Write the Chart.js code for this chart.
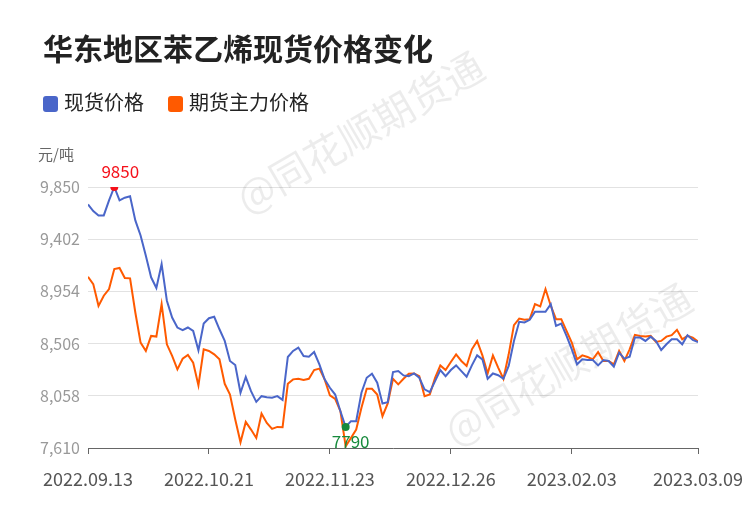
<!DOCTYPE html>
<html>
<head>
<meta charset="utf-8">
<script src="https://cdn.jsdelivr.net/npm/chart.js@4.4.1/dist/chart.umd.min.js"></script>
<style>
  html,body{margin:0;padding:0;background:#fff;}
  #wrap{position:relative;width:750px;height:510px;overflow:hidden;font-family:"Noto Sans CJK SC","Noto Sans",sans-serif;}
  #c{position:absolute;left:0;top:0;}
  .title{position:absolute;left:43px;top:27px;font-size:30px;font-weight:bold;color:#222;line-height:40px;white-space:nowrap;}
  .legend{position:absolute;top:90px;font-size:20px;color:#222;line-height:24px;white-space:nowrap;}
  .legend span.sw{display:inline-block;width:15px;height:16px;border-radius:3px;vertical-align:-2px;margin-right:6px;}
  .unit{position:absolute;left:38px;top:144px;font-size:15px;color:#666;line-height:20px;}
</style>
</head>
<body>
<div id="wrap">
  <canvas id="c" width="750" height="510"></canvas>
  <div class="title">华东地区苯乙烯现货价格变化</div>
  <div class="legend" style="left:43px;"><span class="sw" style="background:#4a66c9"></span>现货价格</div>
  <div class="legend" style="left:168px;"><span class="sw" style="background:#ff5a00"></span>期货主力价格</div>
  <div class="unit">元/吨</div>
</div>
<script>
const dates = [
  "2022.09.13","2022.09.14","2022.09.15","2022.09.16","2022.09.19","2022.09.20","2022.09.21","2022.09.22","2022.09.23","2022.09.26","2022.09.27","2022.09.28","2022.09.29","2022.09.30",
  "2022.10.10","2022.10.11","2022.10.12","2022.10.13","2022.10.14","2022.10.17","2022.10.18","2022.10.19","2022.10.20","2022.10.21","2022.10.24","2022.10.25","2022.10.26","2022.10.27","2022.10.28","2022.10.31",
  "2022.11.01","2022.11.02","2022.11.03","2022.11.04","2022.11.07","2022.11.08","2022.11.09","2022.11.10","2022.11.11","2022.11.14","2022.11.15","2022.11.16","2022.11.17","2022.11.18","2022.11.21","2022.11.22","2022.11.23","2022.11.24","2022.11.25","2022.11.28","2022.11.29","2022.11.30",
  "2022.12.01","2022.12.02","2022.12.05","2022.12.06","2022.12.07","2022.12.08","2022.12.09","2022.12.12","2022.12.13","2022.12.14","2022.12.15","2022.12.16","2022.12.19","2022.12.20","2022.12.21","2022.12.22","2022.12.23","2022.12.26","2022.12.27","2022.12.28","2022.12.29","2022.12.30",
  "2023.01.03","2023.01.04","2023.01.05","2023.01.06","2023.01.09","2023.01.10","2023.01.11","2023.01.12","2023.01.13","2023.01.16","2023.01.17","2023.01.18","2023.01.19","2023.01.20","2023.01.30","2023.01.31",
  "2023.02.01","2023.02.02","2023.02.03","2023.02.06","2023.02.07","2023.02.08","2023.02.09","2023.02.10","2023.02.13","2023.02.14","2023.02.15","2023.02.16","2023.02.17","2023.02.20","2023.02.21","2023.02.22","2023.02.23","2023.02.24","2023.02.27","2023.02.28",
  "2023.03.01","2023.03.02","2023.03.03","2023.03.06","2023.03.07","2023.03.08","2023.03.09"
];

const spotPrice = [
  9700,9643,9606,9606,9735,9850,9735,9758,9770,9563,
  9434,9261,9075,8983,9189,8874,8730,8644,8621,8644,
  8615,8448,8678,8724,8736,8629,8529,8357,8322,8084,
  8219,8098,8006,8055,8046,8041,8055,8023,8391,8443,
  8472,8400,8394,8434,8328,8199,8127,8069,7926,7790,
  7840,7840,8084,8213,8248,8170,7992,8003,8262,8270,
  8233,8227,8250,8213,8113,8090,8184,8279,8227,8279,
  8319,8270,8222,8319,8405,8371,8204,8250,8235,8204,
  8314,8529,8693,8687,8710,8779,8779,8779,8845,8658,
  8678,8572,8457,8328,8371,8365,8365,8319,8365,8357,
  8308,8428,8377,8394,8558,8558,8529,8566,8529,8451,
  8500,8543,8543,8500,8578,8538,8520
];

const futuresPrice = [
  9080,9017,8830,8917,8974,9146,9155,9069,9066,8773,
  8515,8443,8572,8566,8845,8500,8400,8285,8376,8408,
  8342,8147,8457,8443,8414,8371,8161,8069,7854,7659,
  7834,7768,7696,7906,7825,7774,7791,7788,8161,8199,
  8204,8193,8204,8279,8291,8199,8061,8032,7926,7624,
  7696,7768,7955,8118,8118,8069,7883,7992,8204,8156,
  8204,8248,8250,8227,8055,8069,8213,8319,8279,8348,
  8414,8357,8314,8457,8529,8405,8250,8405,8300,8204,
  8414,8664,8721,8710,8716,8845,8825,8974,8831,8716,
  8716,8615,8515,8371,8405,8391,8371,8434,8357,8357,
  8328,8443,8357,8457,8581,8572,8566,8572,8520,8529,
  8566,8578,8624,8543,8572,8558,8523
];

const xTickIndex = [0, 23, 46, 69, 92, 116];
const yTicks = [7610, 8058, 8506, 8954, 9402, 9850];
const seriesNames = ["现货价格", "期货主力价格"];

const maxIdx = spotPrice.indexOf(Math.max(...spotPrice));
const minIdx = spotPrice.indexOf(Math.min(...spotPrice));

const FONT = '"Noto Sans CJK SC","Noto Sans",sans-serif';

const watermark = {
  id: 'watermark',
  beforeDatasetsDraw(chart) {
    const ctx = chart.ctx;
    const marks = [[360, 132], [568, 364]];
    ctx.save();
    ctx.font = '40px ' + FONT;
    ctx.fillStyle = 'rgba(0,0,0,0.075)';
    ctx.textAlign = 'center';
    ctx.textBaseline = 'middle';
    marks.forEach(([x, y]) => {
      ctx.save();
      ctx.translate(x, y);
      ctx.rotate(-30 * Math.PI / 180);
      ctx.fillText('@同花顺期货通', 0, 0);
      ctx.restore();
    });
    ctx.restore();
  }
};

const extremeLabels = {
  id: 'extremeLabels',
  afterDatasetsDraw(chart) {
    const ctx = chart.ctx;
    const meta = chart.getDatasetMeta(0);
    const pMax = meta.data[maxIdx];
    const pMin = meta.data[minIdx];
    ctx.save();
    ctx.font = '17px ' + FONT;
    ctx.textAlign = 'center';
    ctx.textBaseline = 'middle';
    ctx.fillStyle = '#f5101a';
    ctx.fillText(String(spotPrice[maxIdx]), pMax.x + 6, pMax.y - 15);
    ctx.fillStyle = '#178a3c';
    ctx.fillText(String(spotPrice[minIdx]), pMin.x + 5, pMin.y + 15);
    ctx.restore();
  }
};

new Chart(document.getElementById('c'), {
  type: 'line',
  data: {
    datasets: [
      {
        label: seriesNames[0],
        data: spotPrice.map((v, i) => ({x: i, y: v})),
        borderColor: '#4a66c9',
        borderWidth: 2,
        tension: 0,
        pointRadius: ctx => (ctx.dataIndex === maxIdx || ctx.dataIndex === minIdx) ? 4 : 0,
        pointBackgroundColor: ctx => ctx.dataIndex === maxIdx ? '#f5101a' : '#178a3c',
        pointBorderWidth: 0,
        order: 1
      },
      {
        label: seriesNames[1],
        data: futuresPrice.map((v, i) => ({x: i, y: v})),
        borderColor: '#ff5a00',
        borderWidth: 2,
        tension: 0,
        pointRadius: 0,
        order: 2
      }
    ]
  },
  options: {
    responsive: false,
    animation: false,
    layout: {padding: {top: 187, right: 52, left: 0, bottom: 0}},
    plugins: {legend: {display: false}, title: {display: false}, tooltip: {enabled: false}},
    scales: {
      x: {
        type: 'linear',
        min: 0,
        max: dates.length - 1,
        afterBuildTicks: s => { s.ticks = xTickIndex.map(v => ({value: v})); },
        afterFit: s => { s.height = 62; s.paddingLeft = 0; s.paddingRight = 0; },
        ticks: {
          autoSkip: false,
          maxRotation: 0,
          padding: 14,
          color: '#555',
          font: {family: FONT, size: 18},
          callback: v => dates[v]
        },
        grid: {drawOnChartArea: false, drawTicks: true, tickLength: 6, tickColor: '#666'},
        border: {color: '#666', width: 1}
      },
      y: {
        min: yTicks[0],
        max: yTicks[yTicks.length - 1],
        afterBuildTicks: s => { s.ticks = yTicks.map(v => ({value: v})); },
        afterFit: s => { s.width = 88; },
        ticks: {
          padding: 8,
          color: '#999',
          font: {family: FONT, size: 16},
          callback: v => v.toLocaleString('en-US')
        },
        grid: {color: '#e2e2e2', drawTicks: false, lineWidth: 1},
        border: {display: false}
      }
    }
  },
  plugins: [watermark, extremeLabels]
});
</script>
</body>
</html>
